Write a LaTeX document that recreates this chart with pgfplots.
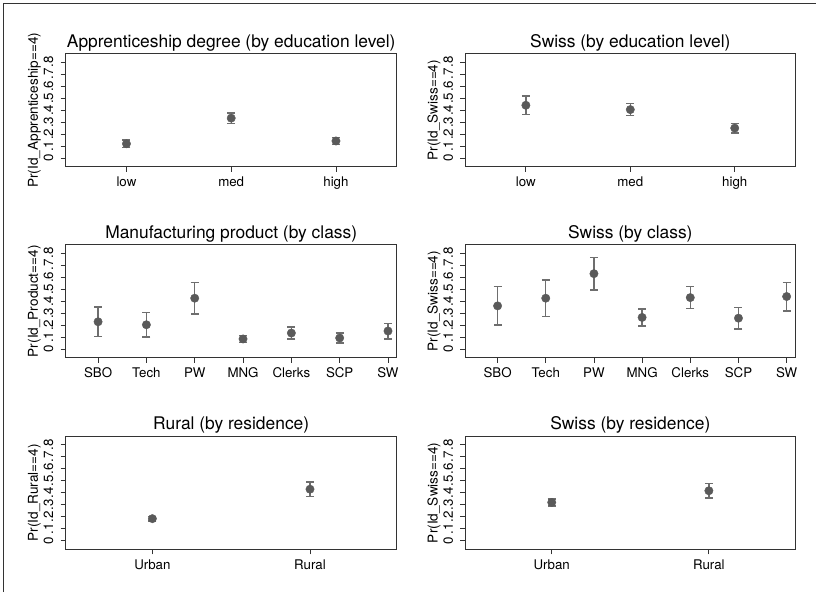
\documentclass[border=0pt]{standalone}
\usepackage{fontspec}
\setmainfont{TeX Gyre Heros}
\usepackage{pgfplots}
\pgfplotsset{compat=1.18}
\definecolor{dotgray}{HTML}{5A5A5A}
\definecolor{bargray}{HTML}{6E6E6E}
\definecolor{framegray}{HTML}{333333}

\pgfplotsset{
  panel/.style={
    scale only axis, height=113pt, anchor=south west,
    ymin=-0.07, ymax=0.87,
    ytick={0,0.1,0.2,0.3,0.4,0.5,0.6,0.7,0.8},
    yticklabels={{0},{.1},{.2},{.3},{.4},{.5},{.6},{.7},{.8}},
    xtick=data,
    tick align=outside, xtick pos=bottom, ytick pos=left,
    major tick length=5pt,
    axis line style={line width=1pt, draw=framegray},
    every tick/.style={line width=0.8pt, draw=framegray},
    title style={font=\fontsize{17.4}{20}\selectfont, at={(0.5,1)}, anchor=base, yshift=0.5pt},
    ticklabel style={font=\fontsize{13.3}{15}\selectfont},
    xticklabel style={anchor=base},
    xticklabel shift=15pt,
    yticklabel style={rotate=90, anchor=base},
    yticklabel shift=7.5pt,
    ylabel style={font=\fontsize{13.6}{15}\selectfont, at={(axis description cs:-0.084,0.5)}, anchor=base},
  },
  dots/.style={
    only marks, mark=*, mark size=4.2pt, color=dotgray,
    mark options={fill=dotgray, draw=dotgray},
    error bars/.cd, y dir=both, y explicit,
    error bar style={line width=1.4pt, color=bargray},
    error mark options={rotate=90, mark size=4pt, line width=1.4pt, color=bargray},
  },
}

\begin{document}
\begin{tikzpicture}

% row 1
\begin{axis}[panel, at={(65.7pt,425.3pt)}, width=331pt,
  title={Apprenticeship degree (by education level)},
  ylabel={Pr(Id\_Apprenticeship==4)},
  xmin=0.42, xmax=3.58, xticklabels={low,med,high}]
\addplot[dots] coordinates {
  (1,0.121) +- (0,0.030)
  (2,0.334) +- (0,0.044)
  (3,0.144) +- (0,0.028)
};
\end{axis}

\begin{axis}[panel, at={(465.3pt,425.3pt)}, width=330pt,
  title={Swiss (by education level)},
  ylabel={Pr(Id\_Swiss==4)},
  xmin=0.42, xmax=3.58, xticklabels={low,med,high}]
\addplot[dots] coordinates {
  (1,0.441) +- (0,0.076)
  (2,0.405) +- (0,0.050)
  (3,0.251) +- (0,0.040)
};
\end{axis}

% row 2
\begin{axis}[panel, at={(65.7pt,234.3pt)}, width=331pt,
  title={Manufacturing product (by class)},
  ylabel={Pr(Id\_Product==4)},
  xmin=0.33, xmax=7.18, xticklabels={SBO,Tech,PW,MNG,Clerks,SCP,SW}]
\addplot[dots] coordinates {
  (1,0.229) +- (0,0.124)
  (2,0.204) +- (0,0.102)
  (3,0.425) +- (0,0.132)
  (4,0.086) +- (0,0.029)
  (5,0.135) +- (0,0.050)
  (6,0.094) +- (0,0.043)
  (7,0.152) +- (0,0.065)
};
\end{axis}

\begin{axis}[panel, at={(465.3pt,234.3pt)}, width=330pt,
  title={Swiss (by class)},
  ylabel={Pr(Id\_Swiss==4)},
  xmin=0.33, xmax=7.18, xticklabels={SBO,Tech,PW,MNG,Clerks,SCP,SW}]
\addplot[dots] coordinates {
  (1,0.361) +- (0,0.160)
  (2,0.425) +- (0,0.150)
  (3,0.629) +- (0,0.135)
  (4,0.265) +- (0,0.070)
  (5,0.430) +- (0,0.092)
  (6,0.259) +- (0,0.091)
  (7,0.439) +- (0,0.119)
};
\end{axis}

% row 3
\begin{axis}[panel, at={(65.7pt,42.7pt)}, width=331pt,
  title={Rural (by residence)},
  ylabel={Pr(Id\_Rural==4)},
  xmin=0.45, xmax=2.55, xticklabels={Urban,Rural}]
\addplot[dots] coordinates {
  (1,0.185) +- (0,0.020)
  (2,0.430) +- (0,0.061)
};
\end{axis}

\begin{axis}[panel, at={(465.3pt,42.7pt)}, width=330pt,
  title={Swiss (by residence)},
  ylabel={Pr(Id\_Swiss==4)},
  xmin=0.45, xmax=2.55, xticklabels={Urban,Rural}]
\addplot[dots] coordinates {
  (1,0.320) +- (0,0.030)
  (2,0.417) +- (0,0.059)
};
\end{axis}

% outer frame (left and top edges only)
\draw[framegray, line width=1.2pt] (3.5pt,0pt) -- (3.5pt,588.5pt) -- (816pt,588.5pt);

\pgfresetboundingbox
\useasboundingbox (0pt,0pt) rectangle (816pt,592pt);
\end{tikzpicture}
\end{document}
